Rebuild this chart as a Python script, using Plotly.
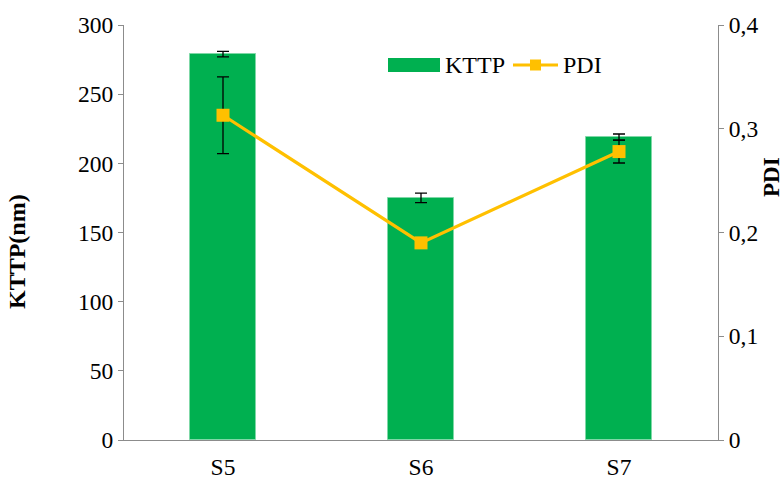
import plotly.graph_objects as go

samples = ["S5", "S6", "S7"]
kttp = [279, 175, 219]
kttp_err = [2.0, 3.4, 2.2]
pdi = [0.313, 0.190, 0.278]
pdi_err = [0.037, 0.004, 0.011]

green = "#00B050"
gold = "#FFC000"
axis_grey = "#8C8C8C"
font_family = "Liberation Serif"
tick_size = 23.5
label_size = 24

fig = go.Figure()

fig.add_trace(go.Bar(
    x=samples, y=kttp, name="KTTP",
    marker=dict(color=green, line=dict(color="#7FD8A7", width=1)),
    width=0.33,
    error_y=dict(type="data", array=kttp_err, color="black", thickness=1.3, width=6),
    showlegend=False,
))

fig.add_trace(go.Scatter(
    x=samples, y=pdi, name="PDI", yaxis="y2",
    mode="lines+markers",
    line=dict(color=gold, width=3.2),
    marker=dict(symbol="square", size=13, color=gold),
    error_y=dict(type="data", array=pdi_err, color="black", thickness=1.3, width=6),
    showlegend=False,
))

# plot-area geometry in pixels, used to place the legend and axis titles
L, R, T, B = 124, 718, 25, 440
W, H = R - L, B - T
def px(x):
    return (x - L) / W
def py(y):
    return (B - y) / H

shapes = [
    dict(type="rect", xref="paper", yref="paper",
         x0=px(388), x1=px(440), y0=py(72), y1=py(58),
         fillcolor=green, line=dict(width=0)),
    dict(type="line", xref="paper", yref="paper",
         x0=px(513), x1=px(558), y0=py(65), y1=py(65),
         line=dict(color=gold, width=3.2)),
    dict(type="rect", xref="paper", yref="paper",
         x0=px(530), x1=px(541), y0=py(70.5), y1=py(59.5),
         fillcolor=gold, line=dict(width=0)),
]
annotations = [
    dict(text="KTTP", xref="paper", yref="paper", x=px(443), y=py(65),
         xanchor="left", yanchor="middle", showarrow=False,
         font=dict(family=font_family, size=label_size, color="black")),
    dict(text="PDI", xref="paper", yref="paper", x=px(561), y=py(65),
         xanchor="left", yanchor="middle", showarrow=False,
         font=dict(family=font_family, size=label_size, color="black")),
    dict(text="<b>KTTP(nm)</b>", xref="paper", yref="paper", x=px(17), y=py(251),
         xanchor="center", yanchor="middle", textangle=-90, showarrow=False,
         font=dict(family=font_family, size=label_size, color="black")),
    dict(text="<b>PDI</b>", xref="paper", yref="paper", x=px(771), y=py(177),
         xanchor="center", yanchor="middle", textangle=-90, showarrow=False,
         borderpad=0,
         font=dict(family=font_family, size=23, color="black")),
]

fig.update_layout(
    width=784, height=480,
    margin=dict(l=L, r=784 - R, t=T, b=480 - B),
    paper_bgcolor="white", plot_bgcolor="white",
    separators=", ",
    font=dict(family=font_family, size=tick_size, color="black"),
    bargap=0,
    xaxis=dict(
        showline=True, linecolor=axis_grey, linewidth=1.2,
        ticks="", showgrid=False, ticklabelstandoff=6, automargin=False,
        tickfont=dict(family=font_family, size=tick_size, color="black"),
    ),
    yaxis=dict(
        range=[0, 300], dtick=50, showgrid=False, automargin=False,
        showline=True, linecolor=axis_grey, linewidth=1.2,
        ticks="outside", ticklen=5, tickcolor=axis_grey,
        tickfont=dict(family=font_family, size=tick_size, color="black"),
        zeroline=False,
    ),
    yaxis2=dict(
        range=[0, 0.4], dtick=0.1, overlaying="y", side="right",
        showgrid=False, showline=True, linecolor=axis_grey, linewidth=1.2,
        ticks="outside", ticklen=5, tickcolor=axis_grey, automargin=False,
        tickformat=".1~f",
        tickfont=dict(family=font_family, size=tick_size, color="black"),
        zeroline=False,
    ),
    shapes=shapes,
    annotations=annotations,
    showlegend=False,
)

fig.write_html("out.html")
